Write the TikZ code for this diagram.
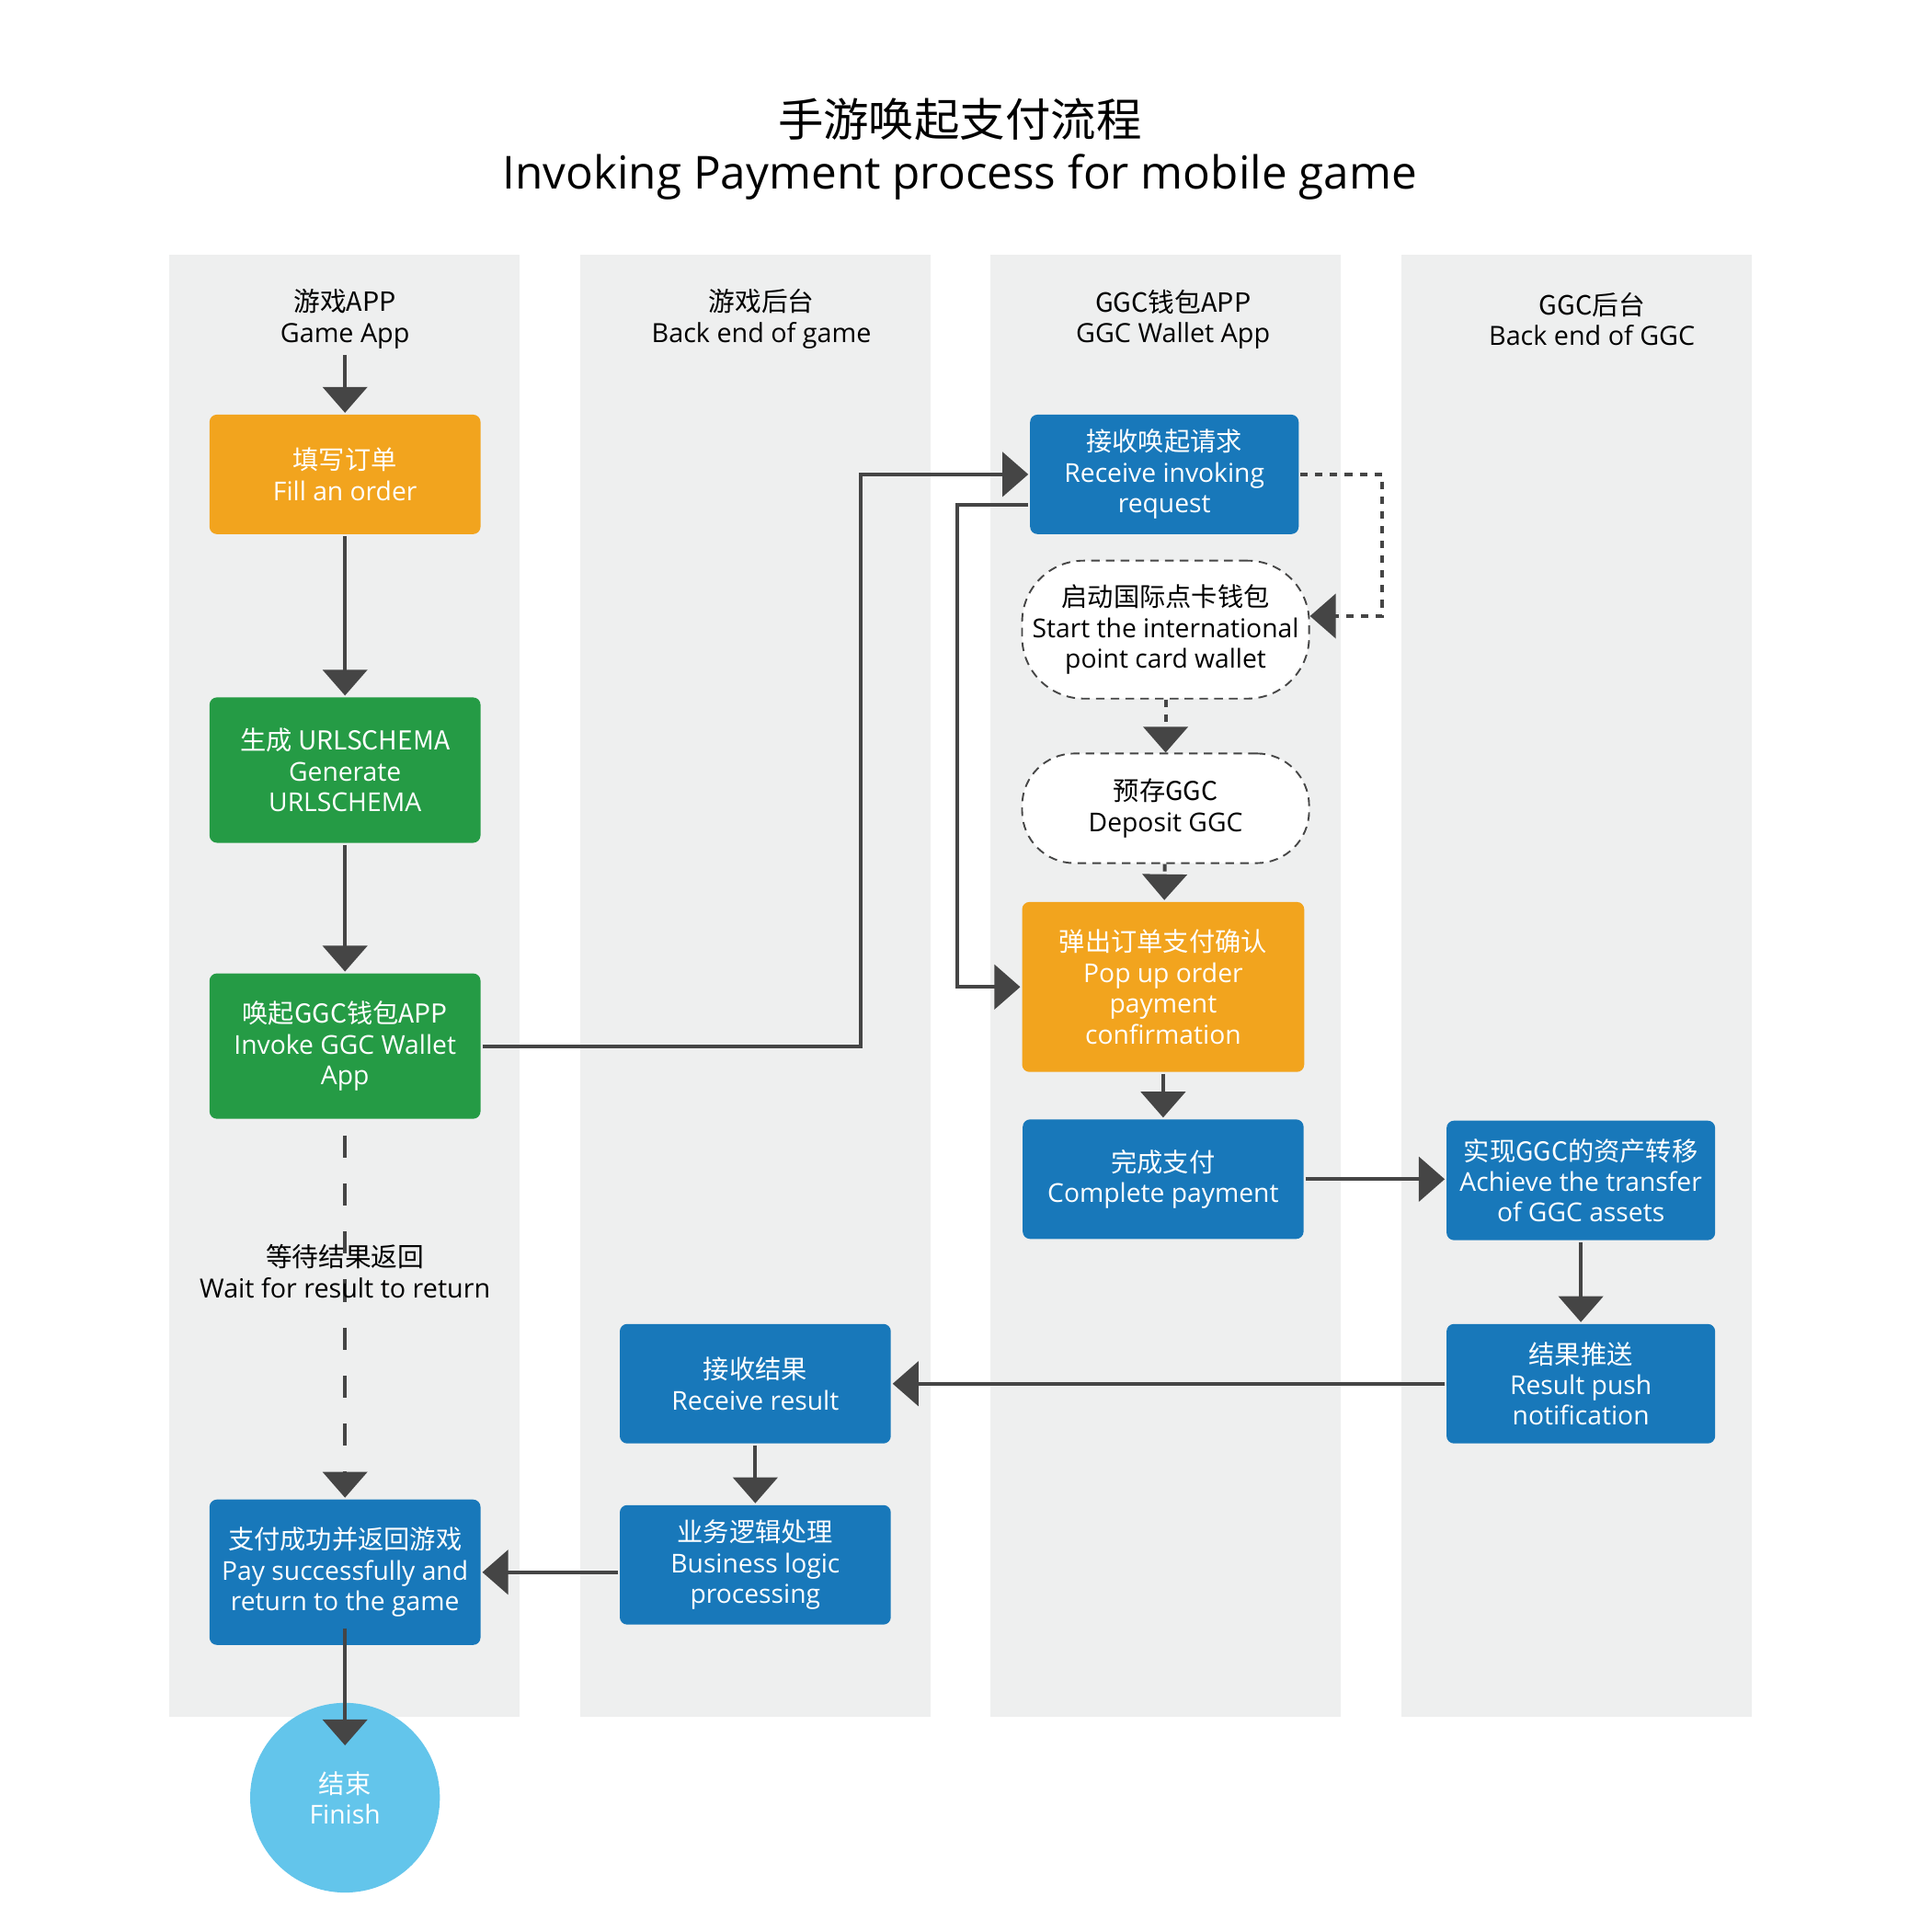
\documentclass[tikz,border=0pt]{standalone}
\usepackage{fontspec}
\setmainfont{Open Sans}
\newfontfamily\cjk{Noto Sans CJK SC}
\usetikzlibrary{arrows.meta,calc}
\definecolor{laneGray}{HTML}{EEEFEF}
\definecolor{lineGray}{HTML}{454545}
\definecolor{boxOrange}{HTML}{F2A41E}
\definecolor{boxGreen}{HTML}{259B45}
\definecolor{boxBlue}{HTML}{1878BA}
\definecolor{endBlue}{HTML}{63C5EB}

\begin{document}
\begin{tikzpicture}[x=0.02cm,y=-0.02cm,>={Triangle[width=0.72cm,length=0.42cm]},line width=1.7pt]
\tikzstyle{lane}=[fill=laneGray]
\tikzstyle{head}=[align=center,font=\fontsize{12.2}{14.2}\selectfont,inner sep=2pt]
\tikzstyle{block}=[rectangle,rounded corners=0.12cm,align=center,minimum width=4.4cm,minimum height=1.94cm,text=white,font=\fontsize{12}{14.2}\selectfont,inner sep=1pt]
\tikzstyle{soft}=[block,draw=lineGray,line width=0.8pt,dash pattern=on 0.14cm off 0.1cm,fill=white,text=black]
\tikzstyle{link}=[->,draw=lineGray]
\tikzstyle{dlink}=[link,dash pattern=on 0.12cm off 0.12cm]
\useasboundingbox (0,0) rectangle (1568,1568);

% swim lanes
\fill[lane] (137,207) rectangle (422,1393);
\fill[lane] (471,207) rectangle (755,1393);
\fill[lane] (804,207) rectangle (1088,1393);
\fill[lane] (1137,207) rectangle (1422,1393);

\node[align=center,font=\fontsize{21}{24.4}\selectfont] (title) at (779,121) {{\cjk 手游唤起支付流程}\\Invoking Payment process for mobile game};

\node[head] (hgame) at (280,259) {{\cjk 游戏APP}\\Game App};
\node[head] (hgback) at (618,259) {{\cjk 游戏后台}\\Back end of game};
\node[head] (hwallet) at (952,259) {{\cjk GGC钱包APP}\\GGC Wallet App};
\node[head] (hggc) at (1292,259) {{\cjk GGC后台}\\Back end of GGC};

% game app
\node[block,fill=boxOrange] (fill) at (280,385) {{\cjk 填写订单}\\Fill an order};
\node[block,fill=boxGreen,minimum height=2.36cm] (gen) at (280,625) {{\cjk 生成 URLSCHEMA}\\Generate\\URLSCHEMA};
\node[block,fill=boxGreen,minimum height=2.36cm] (invoke) at (280,849) {{\cjk 唤起GGC钱包APP}\\Invoke GGC Wallet\\App};
\node[block,fill=boxBlue,minimum height=2.36cm] (pay) at (280,1276) {{\cjk 支付成功并返回游戏}\\Pay successfully and\\return to the game};
\node[circle,fill=endBlue,minimum size=3.08cm,text=white,align=center,font=\fontsize{12}{14.2}\selectfont] (finish) at (280,1459) {{\cjk 结束}\\Finish};

% back end of game
\node[block,fill=boxBlue] (recvres) at (613,1123) {{\cjk 接收结果}\\Receive result};
\node[block,fill=boxBlue] (biz) at (613,1270) {{\cjk 业务逻辑处理}\\Business logic\\processing};

% wallet app
\node[block,fill=boxBlue,minimum width=4.36cm] (recvreq) at (945,385) {{\cjk 接收唤起请求}\\Receive invoking\\request};
\node[soft,minimum width=4.66cm,minimum height=2.24cm,rounded corners=1.0cm] (start) at (946,511) {{\cjk 启动国际点卡钱包}\\Start the international\\point card wallet};
\node[soft,minimum width=4.66cm,minimum height=1.78cm,rounded corners=0.85cm] (deposit) at (946,656) {{\cjk 预存GGC}\\Deposit GGC};
\node[block,fill=boxOrange,minimum width=4.58cm,minimum height=2.76cm] (popup) at (944,801) {{\cjk 弹出订单支付确认}\\Pop up order\\payment\\confirmation};
\node[block,fill=boxBlue,minimum width=4.56cm] (complete) at (944,957) {{\cjk 完成支付}\\Complete payment};

% back end of GGC
\node[block,fill=boxBlue,minimum width=4.36cm] (achieve) at (1283,958) {{\cjk 实现GGC的资产转移}\\Achieve the transfer\\of GGC assets};
\node[block,fill=boxBlue,minimum width=4.36cm] (result) at (1283,1123) {{\cjk 结果推送}\\Result push\\notification};

% connectors
\draw[link] (hgame.south) -- (fill.north);
\draw[link] (fill) -- (gen);
\draw[link] (gen) -- (invoke);
\draw[link,dash pattern=on 0.36cm off 0.42cm,shorten <=0.24cm] (invoke) -- node[pos=0.4,align=center,font=\fontsize{12.2}{14.2}\selectfont] (wait) {{\cjk 等待结果返回}\\Wait for result to return} (pay);
\draw[link] ($(pay.south)+(0,-15)$) -- ($(finish.north)+(0,36)$);
\draw[link] (invoke.east) -- ++(307,0) |- (recvreq.west);
\draw[link] ($(recvreq.west)+(0,25)$) -- ++(-58,0) |- (popup.west);
\draw[dlink] (recvreq.east) -- ++(66,0) |- ($(start.east)+(0,-11)$);
\draw[dlink] (start) -- (deposit);
\draw[dlink] (deposit) -- (popup);
\draw[link] (popup) -- (complete);
\draw[link] (complete.east) -- (complete.east -| achieve.west);
\draw[link] (achieve) -- (result);
\draw[link] (result) -- (recvres);
\draw[link] (recvres) -- (biz);
\draw[link] (biz.west |- pay.east) -- (pay.east);
\end{tikzpicture}
\end{document}
